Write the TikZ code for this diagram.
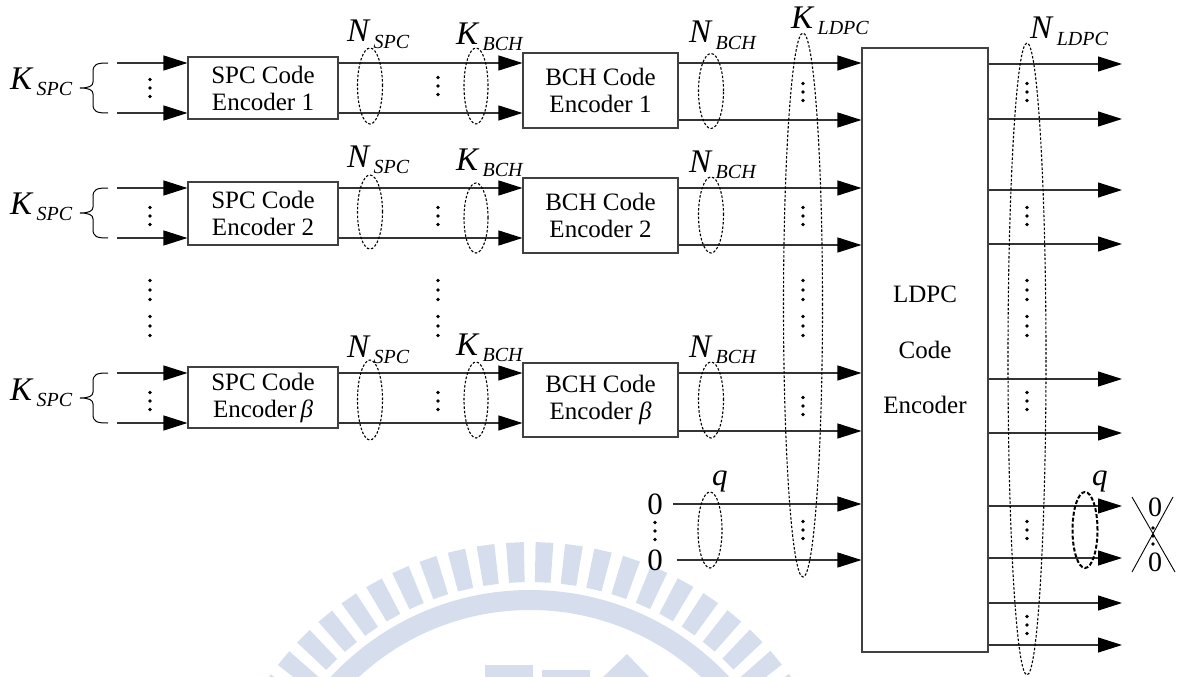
\documentclass[tikz,border=0pt]{standalone}
\usepackage{fontspec}
\setmainfont{Liberation Serif}
\usetikzlibrary{arrows.meta}
\definecolor{wmc}{RGB}{214,222,238}
\newcommand{\sublab}[2]{\fontsize{33}{33}\selectfont\textit{#1}\hspace{3pt}\raisebox{-6pt}{\fontsize{20}{20}\selectfont\textit{#2}}}
\newcommand{\vd}[3][8.5]{\foreach \k in {-1,0,1}{\fill ({#2},{#3+#1*\k}) circle (1.9pt);}}
\tikzset{
  line/.style={line width=1.1pt, draw=black!80},
  arr/.style={line, -{Triangle[length=24pt,width=15pt,fill=black,color=black]}},
  box/.style={draw=black!75, line width=1.1pt, align=center, font=\fontsize{25}{27}\selectfont, inner sep=0pt},
  dell/.style={draw=black, line width=1.1pt, dash pattern=on 2.5pt off 1.8pt},
  dellthick/.style={draw=black, line width=2pt, dash pattern=on 4pt off 2pt},
  lab/.style={inner sep=0pt, anchor=base west},
  zero/.style={inner sep=0pt, font=\fontsize{31}{31}\selectfont}
}
\begin{document}
\begin{tikzpicture}[x=1pt,y=-1pt]
\useasboundingbox (0,0) rectangle (1178,677);
% watermark
\begin{scope}
\clip (0,0) rectangle (1178,677);
\begin{scope}[shift={(530,862)}]
\foreach \a in {212.7,218.0,...,330} \fill[wmc] (\a:280) -- (\a:320) -- (\a+3.2:320) -- (\a+3.2:280) -- cycle;
\fill[wmc, even odd rule] (0,0) circle (272pt) (0,0) circle (252pt);
\end{scope}
\fill[wmc] (485,665) rectangle (533,680);
\fill[wmc] (542,670) rectangle (590,680);
\fill[wmc] (600,680) -- (627,654) -- (652,680) -- cycle;
\end{scope}

% boxes
\node[box, minimum width=150pt, minimum height=62pt] (spc1) at (263,88) {SPC Code\\Encoder 1};
\node[box, minimum width=150pt, minimum height=63pt] (spc2) at (263,213.5) {SPC Code\\Encoder 2};
\node[box, minimum width=150pt, minimum height=61pt] (spc3) at (263,397.5) {SPC Code\\Encoder\,\textit{β}};
\node[box, minimum width=155pt, minimum height=75pt] (bch1) at (600.5,90.5) {BCH Code\\Encoder 1};
\node[box, minimum width=155pt, minimum height=75pt] (bch2) at (600.5,215.5) {BCH Code\\Encoder 2};
\node[box, minimum width=155pt, minimum height=74pt] (bch3) at (600.5,400) {BCH Code\\Encoder \textit{β}};
\node[box, minimum width=126pt, minimum height=604pt, font=\fontsize{25}{55.5}\selectfont] (ldpc) at (925,350) {LDPC\\Code\\Encoder};

% inputs with braces
\foreach \r/\ya/\yb in {1/63/113, 2/188/238, 3/373/423}{
  \coordinate (ina\r) at (117,\ya);
  \coordinate (inb\r) at (117,\yb);
  \draw[arr] (ina\r) -- (spc\r.west |- ina\r);
  \draw[arr] (inb\r) -- (spc\r.west |- inb\r);
  \draw[line width=1pt] (108,\ya) .. controls (97,\ya) and (93,\ya+1) .. (93,\ya+9) -- (93,{(\ya+\yb)/2-6}) .. controls (93,{(\ya+\yb)/2-2}) and (89,{(\ya+\yb)/2}) .. (80,{(\ya+\yb)/2}) .. controls (89,{(\ya+\yb)/2}) and (93,{(\ya+\yb)/2+2}) .. (93,{(\ya+\yb)/2+6}) -- (93,\yb-9) .. controls (93,\yb-1) and (97,\yb) .. (108,\yb);
}
\node[lab] (ks1) at (10,89) {\sublab{K}{SPC}};
\node[lab] (ks2) at (10,214) {\sublab{K}{SPC}};
\node[lab] (ks3) at (10,400) {\sublab{K}{SPC}};

% SPC -> BCH
\foreach \r/\ya/\yb in {1/63/113, 2/188/238, 3/373/423}{
  \draw[arr] (spc\r.east |- 0,\ya) -- (bch\r.west |- 0,\ya);
  \draw[arr] (spc\r.east |- 0,\yb) -- (bch\r.west |- 0,\yb);
}
% BCH -> LDPC
\foreach \r/\ya/\yb in {1/63/120, 2/188/245, 3/373/431}{
  \draw[arr] (bch\r.east |- 0,\ya) -- (ldpc.west |- 0,\ya);
  \draw[arr] (bch\r.east |- 0,\yb) -- (ldpc.west |- 0,\yb);
}
% zeros
\node[zero] (z1) at (655,504) {0};
\node[zero] (z2) at (655,560) {0};
\draw[arr] ([xshift=10pt]z1.east) -- (ldpc.west |- z1.east);
\draw[arr] ([xshift=14pt]z2.east) -- (ldpc.west |- z2.east);
% outputs
\foreach \y [count=\i] in {64,119,190,244,379,433,506,558,603,645}{
  \coordinate (out\i) at (1122,\y);
  \draw[arr] (ldpc.east |- out\i) -- (out\i);
}
% crossed zeros
\node[zero, font=\fontsize{28}{28}\selectfont] (cz1) at (1155,507) {0};
\node[zero, font=\fontsize{28}{28}\selectfont] (cz2) at (1155,562) {0};
\vd[8]{1153}{536}
\draw[line width=0.9pt] (1132,497) -- (1175,572);
\draw[line width=0.9pt] (1173,497) -- (1132,572);

% ellipses
\draw[dell] (370,86) ellipse [x radius=12.5pt, y radius=38pt];
\draw[dell] (370,212) ellipse [x radius=12.5pt, y radius=37pt];
\draw[dell] (370,400) ellipse [x radius=12.5pt, y radius=40pt];
\draw[dell] (476,86) ellipse [x radius=12pt, y radius=38pt];
\draw[dell] (476,218) ellipse [x radius=12pt, y radius=35pt];
\draw[dell] (476,400) ellipse [x radius=12pt, y radius=38pt];
\draw[dell] (711,91) ellipse [x radius=12.5pt, y radius=37.5pt];
\draw[dell] (711,215) ellipse [x radius=12.5pt, y radius=38pt];
\draw[dell] (711,400) ellipse [x radius=12.5pt, y radius=38pt];
\draw[dell] (710,530) ellipse [x radius=12pt, y radius=38pt];
\draw[dell] (803,305) ellipse [x radius=19.5pt, y radius=272pt];
\draw[dell] (1027,359) ellipse [x radius=19pt, y radius=316pt];
\draw[dellthick] (1085,530) ellipse [x radius=12.5pt, y radius=38pt];

% labels
\node[lab] (ns1) at (347,42) {\sublab{N}{SPC}};
\node[lab] (ns2) at (347,167) {\sublab{N}{SPC}};
\node[lab] (ns3) at (347,357) {\sublab{N}{SPC}};
\node[lab] (kb1) at (456,45) {\sublab{K}{BCH}};
\node[lab] (kb2) at (456,170) {\sublab{K}{BCH}};
\node[lab] (kb3) at (456,355) {\sublab{K}{BCH}};
\node[lab] (nb1) at (689,43) {\sublab{N}{BCH}};
\node[lab] (nb2) at (689,172) {\sublab{N}{BCH}};
\node[lab] (nb3) at (689,357) {\sublab{N}{BCH}};
\node[lab] (kl) at (791,29) {\sublab{K}{LDPC}};
\node[lab] (nl) at (1030,39) {\sublab{N}{LDPC}};
\node[lab, font=\fontsize{31}{31}\selectfont] (q1) at (712,485) {\textit{q}};
\node[lab, font=\fontsize{31}{31}\selectfont] (q2) at (1092,485) {\textit{q}};

% dots
\vd{150}{88} \vd{150}{216} \vd[9.5]{150}{290} \vd[9.5]{150}{326} \vd{150}{401}
\vd{438}{86} \vd{438}{216} \vd[9.5]{438}{290} \vd[9.5]{438}{326} \vd{438}{401}
\vd{803}{92} \vd{803}{216} \vd[9.5]{803}{290} \vd[9.5]{803}{326} \vd{803}{406} \vd{803}{530}
\vd{1027}{92} \vd{1027}{216} \vd[9.5]{1027}{290} \vd[9.5]{1027}{326} \vd{1027}{401} \vd{1027}{530} \vd{1027}{625}
\vd{655}{531}
\end{tikzpicture}
\end{document}
